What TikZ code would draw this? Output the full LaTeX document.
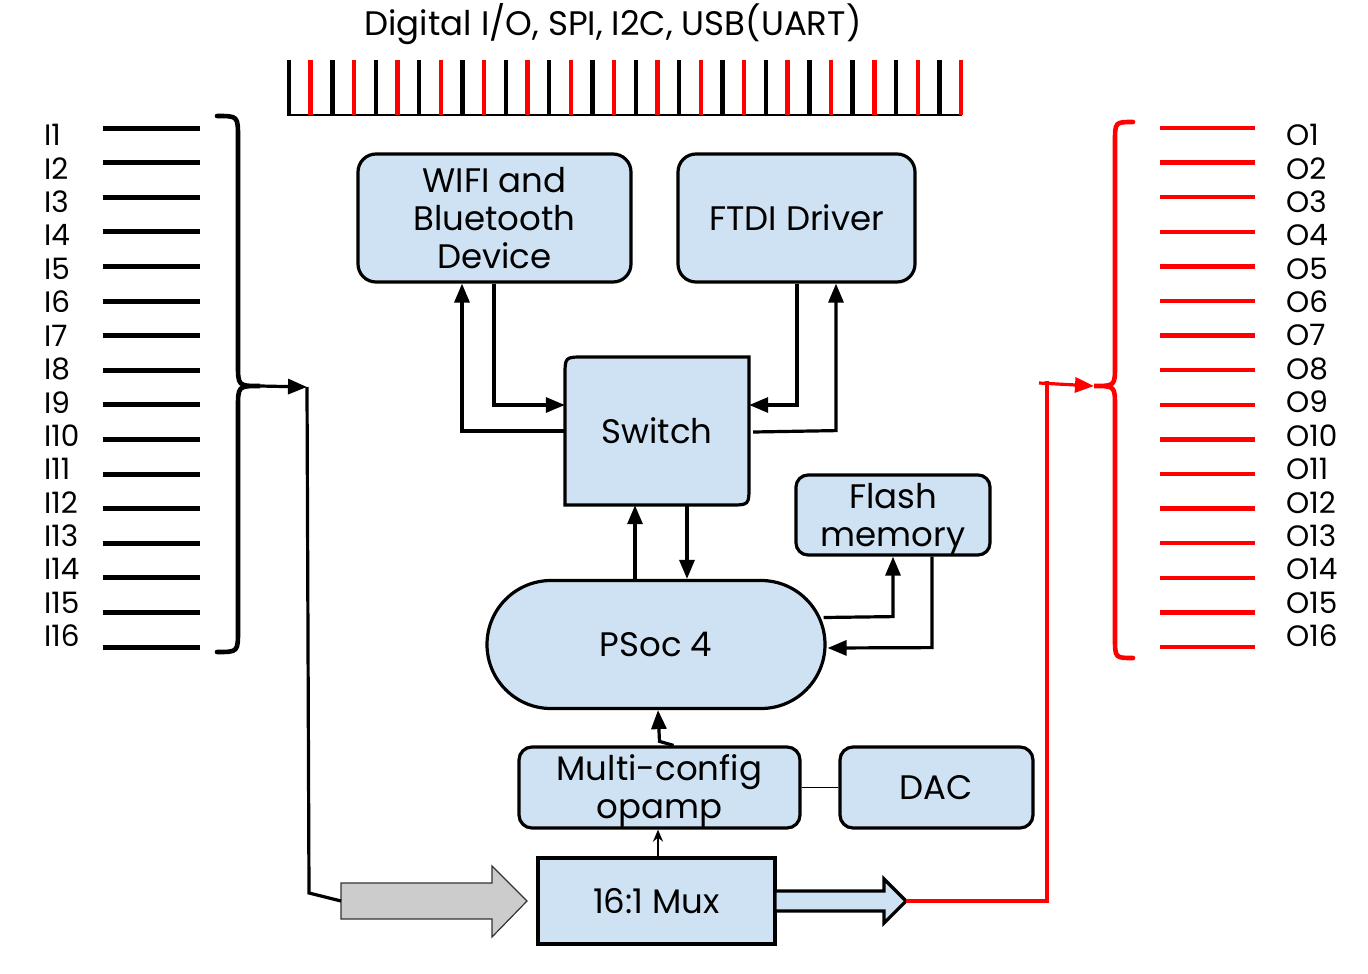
\documentclass[tikz,border=0pt]{standalone}
\usepackage{fontspec}
\setmainfont{Poppins}
\usetikzlibrary{arrows.meta,calc}
\definecolor{boxblue}{HTML}{CFE2F3}
\definecolor{grayfill}{HTML}{CCCCCC}
\newcommand\boxfnt{\fontsize{34}{38}\selectfont}
\newcommand\lblfnt{\fontsize{29.5}{32}\selectfont}
\newcommand\ttlfnt{\fontsize{34}{38}\selectfont}
\begin{document}
\begin{tikzpicture}[x=1pt,y=-1pt,
  box/.style={draw=black,line width=3.2pt,fill=boxblue,rounded corners=18pt,align=center,inner sep=0pt,font=\boxfnt},
  btxt/.style={align=center,inner sep=0pt,font=\boxfnt},
  conn/.style={line width=3.2pt},
  tip/.style={-{Triangle[length=19pt,width=15pt]}},
  arr/.style={conn,tip},
  sarr/.style={line width=2.2pt,-{Stealth[length=12pt,width=10pt]}},
  brace/.style={line width=4.6pt,line cap=round},
  lbl/.style={anchor=west,inner sep=0pt,font=\lblfnt}]
\useasboundingbox (0,0) rectangle (1368,974);

% title and top connector bar
\node[font=\ttlfnt] (title) at (613,24) {Digital I/O, SPI, I2C, USB(UART)};
\draw[line width=2.8pt] (287,115) -- (962,115);
\foreach \i in {0,...,31}{
  \pgfmathsetmacro\xx{289+\i*21.68}
  \pgfmathtruncatemacro\odd{mod(\i,2)}
  \ifnum\odd=0 \def\cc{black}\else\def\cc{red}\fi
  \draw[\cc,line width=4.4pt] (\xx,60) -- (\xx,115);
}

% inputs
\foreach \i in {1,...,16}{
  \pgfmathsetmacro\ly{128+(\i-1)*34.6}
  \pgfmathsetmacro\ty{135+(\i-1)*33.4}
  \draw[line width=5pt] (103,\ly) -- (200,\ly);
  \node[lbl] (in\i) at (44,\ty) {I\i};
}
% outputs
\foreach \i in {1,...,16}{
  \pgfmathsetmacro\ly{128+(\i-1)*34.6}
  \pgfmathsetmacro\ty{135+(\i-1)*33.4}
  \draw[red,line width=4.4pt] (1160,\ly) -- (1255,\ly);
  \node[lbl] (out\i) at (1286,\ty) {O\i};
}

% braces
\coordinate (lbt) at (260,386);
\coordinate (rbt) at (1094,386);
\draw[brace] (217,116) .. controls (238,116) .. (238,138) -- (238,364) .. controls (238,386) .. (lbt) .. controls (238,386) .. (238,408) -- (238,630) .. controls (238,652) .. (217,652);
\draw[brace,red] (1133,122) .. controls (1115,122) .. (1115,142) -- (1115,365) .. controls (1115,386) .. (rbt) .. controls (1115,386) .. (1115,407) -- (1115,638) .. controls (1115,658) .. (1133,658);

% boxes
\node[box,minimum width=273pt,minimum height=128pt] (wifi) at (494.5,218) {WIFI and\\Bluetooth\\Device};
\node[box,minimum width=237pt,minimum height=128pt] (ftdi) at (796.5,218) {FTDI Driver};
\filldraw[fill=boxblue,line width=3.2pt] (565,505) -- (565,376) .. controls (565,357) .. (584,357) -- (749,357) -- (749,486) .. controls (749,505) .. (730,505) -- cycle;
\node[inner sep=0pt,minimum width=184pt,minimum height=148pt,font=\boxfnt] (sw) at (657,431) {Switch};
\node[box,rounded corners=12pt,minimum width=194pt,minimum height=80pt] (flash) at (893,515) {};
\node[btxt] (flasht) at (893,519) {Flash\\memory};
\node[box,rounded corners=64pt,minimum width=338pt,minimum height=128pt] (psoc) at (656,644.5) {PSoc 4};
\node[box,rounded corners=13pt,minimum width=281pt,minimum height=81pt] (opamp) at (659.5,787.5) {};
\node[btxt] (opampt) at (659.5,791) {Multi-config\\opamp};
\node[box,rounded corners=13pt,minimum width=193pt,minimum height=81pt] (dac) at (936.5,787.5) {DAC};
\node[box,sharp corners,minimum width=237pt,minimum height=86pt] (mux) at (656.5,901) {16:1 Mux};

% block arrows around the mux
\filldraw[fill=grayfill,draw=black!80,line width=1.2pt] (341,883) -- (492,883) -- (492,866) -- (527,901) -- (492,937) -- (492,919) -- (341,919) -- cycle;
\coordinate (gin) at (341,901);
\fill[boxblue] (776.6,891) -- (884,891) -- (884,879) -- (906,901) -- (884,923) -- (884,911) -- (776.6,911) -- cycle;
\draw[line width=3.2pt,line join=miter] (775,891) -- (884,891) -- (884,879) -- (906,901) -- (884,923) -- (884,911) -- (775,911);
\coordinate (mout) at (906,901);

% connectors
\draw[arr] (sw.west) -| ($(wifi.south)+(-32.5,0)$);
\draw[arr] ($(wifi.south)+(-0.5,0)$) |- ($(sw.west)+(0,-26)$);
\draw[arr] ($(ftdi.south)+(0.5,0)$) |- ($(sw.east)+(0,-26)$);
\draw[arr] ($(sw.east)+(4,1)$) -- ($(ftdi.south)+(39.5,147)$) -- ($(ftdi.south)+(39.5,0)$);
\draw[arr] ($(psoc.north)+(-21,0)$) -- ($(sw.south)+(-22,0)$);
\draw[arr] ($(sw.south)+(30,0)$) -- ($(psoc.north)+(31,0)$);
\draw[arr] ($(psoc.east)+(-3,-27)$) -- ($(flash.south)+(0,60)$) -- (flash.south);
\draw[arr] ($(flash.south)+(39,0)$) -- ($(flash.south)+(39,91)$) -- ($(psoc.east)+(1,3.5)$);
\draw[arr] ($(opamp.north)+(14,0)$) -- ($(opamp.north)+(0,-4)$) -- ($(psoc.south)+(2,0)$);
\draw[sarr] ($(mux.north)+(1.5,0)$) -- ($(opamp.south)+(-1.5,0)$);
\draw[line width=1.4pt] (opamp.east) -- (dac.west);

% input bus to mux
\coordinate (lbj) at (307,387);
\draw[conn,tip] (lbt) -- (lbj);
\draw[conn] (lbj) -- (309,893) -- (gin);
% output bus from mux
\draw[red,conn] (mout) -- (1047,901) -- (1047,381);
\draw[red,conn,tip] (1039,383) -- (rbt);
\end{tikzpicture}
\end{document}
